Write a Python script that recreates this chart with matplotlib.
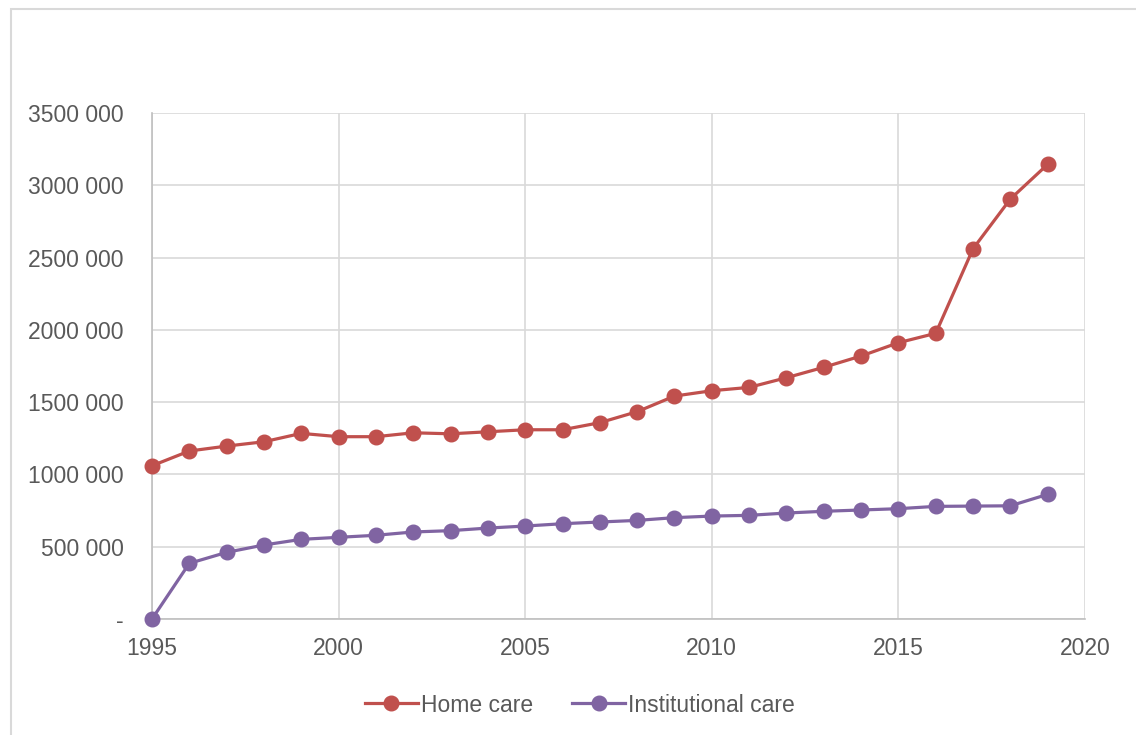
"""
plot.py - Home care vs institutional care, 1995-2019.
"""

import matplotlib
matplotlib.use("Agg")
import matplotlib.pyplot as plt
import matplotlib.patches as mpatches

# ─── Data ─────────────────────────────────────────────────────────────────────

years = list(range(1995, 2020))

home_care = [
    1060000, 1162000, 1196000, 1226000, 1284000, 1261000, 1261000, 1288000,
    1281000, 1295000, 1309000, 1309000, 1358000, 1434000, 1542000, 1579000,
    1602000, 1669000, 1741000, 1819000, 1911000, 1976000, 2561000, 2905000,
    3145000,
]

institutional_care = [
    0, 385000, 461000, 512000, 551000, 565000, 579000, 602000,
    611000, 629000, 643000, 659000, 671000, 682000, 701000, 712000,
    717000, 733000, 745000, 754000, 763000, 779000, 781000, 783000,
    862000,
]

x_ticks = [1995, 2000, 2005, 2010, 2015, 2020]
y_ticks = [0, 500000, 1000000, 1500000, 2000000, 2500000, 3000000, 3500000]
y_labels = ["-", "500 000", "1000 000", "1500 000", "2000 000",
            "2500 000", "3000 000", "3500 000"]

RED    = "#C0504D"
PURPLE = "#8064A2"
TEXT   = "#595959"
GRID   = "#D9D9D9"

plt.rcParams["font.family"] = ["Liberation Sans", "DejaVu Sans"]

# ─── Figure ───────────────────────────────────────────────────────────────────

fig = plt.figure(figsize=(11.36, 7.35), dpi=100)
W, H = 1136, 735

# outer chart border (right and bottom edges fall outside the image)
fig.patches.append(mpatches.Rectangle(
    (11 / W, -0.05), 1.2, (H - 8.5) / H + 0.05,
    transform=fig.transFigure, fill=False, edgecolor="#D9D9D9", linewidth=1.5))

ax = fig.add_axes([152 / W, 1 - 619 / H, (1085 - 152) / W, (619 - 113) / H])

ax.plot(years, home_care, color=RED, linewidth=2.3, marker="o",
        markersize=10.5, label="Home care", clip_on=False, zorder=3)
ax.plot(years, institutional_care, color=PURPLE, linewidth=2.3, marker="o",
        markersize=10.5, label="Institutional care", clip_on=False, zorder=3)

ax.set_xlim(1995, 2020)
ax.set_ylim(0, 3500000)
ax.set_xticks(x_ticks)
ax.set_yticks(y_ticks)
ax.set_yticklabels(y_labels)

ax.grid(True, color=GRID, linewidth=1.2)
ax.set_axisbelow(True)
for side in ["top", "right"]:
    ax.spines[side].set_visible(False)
ax.spines["left"].set_color("#BFBFBF")
ax.spines["bottom"].set_color("#BFBFBF")
ax.spines["left"].set_linewidth(1.2)
ax.spines["bottom"].set_linewidth(1.2)

ax.tick_params(axis="both", length=0, labelsize=16.5, labelcolor=TEXT)
ax.tick_params(axis="y", pad=20.5)
ax.tick_params(axis="x", pad=13)

fig.legend(loc="center", bbox_to_anchor=(580 / W, 1 - 705 / H), ncol=2,
           frameon=False, fontsize=16.5, labelcolor=TEXT, handlelength=2.3,
           handletextpad=0.15, columnspacing=1.7)

fig.savefig("out.png", dpi=100)
plt.close(fig)
